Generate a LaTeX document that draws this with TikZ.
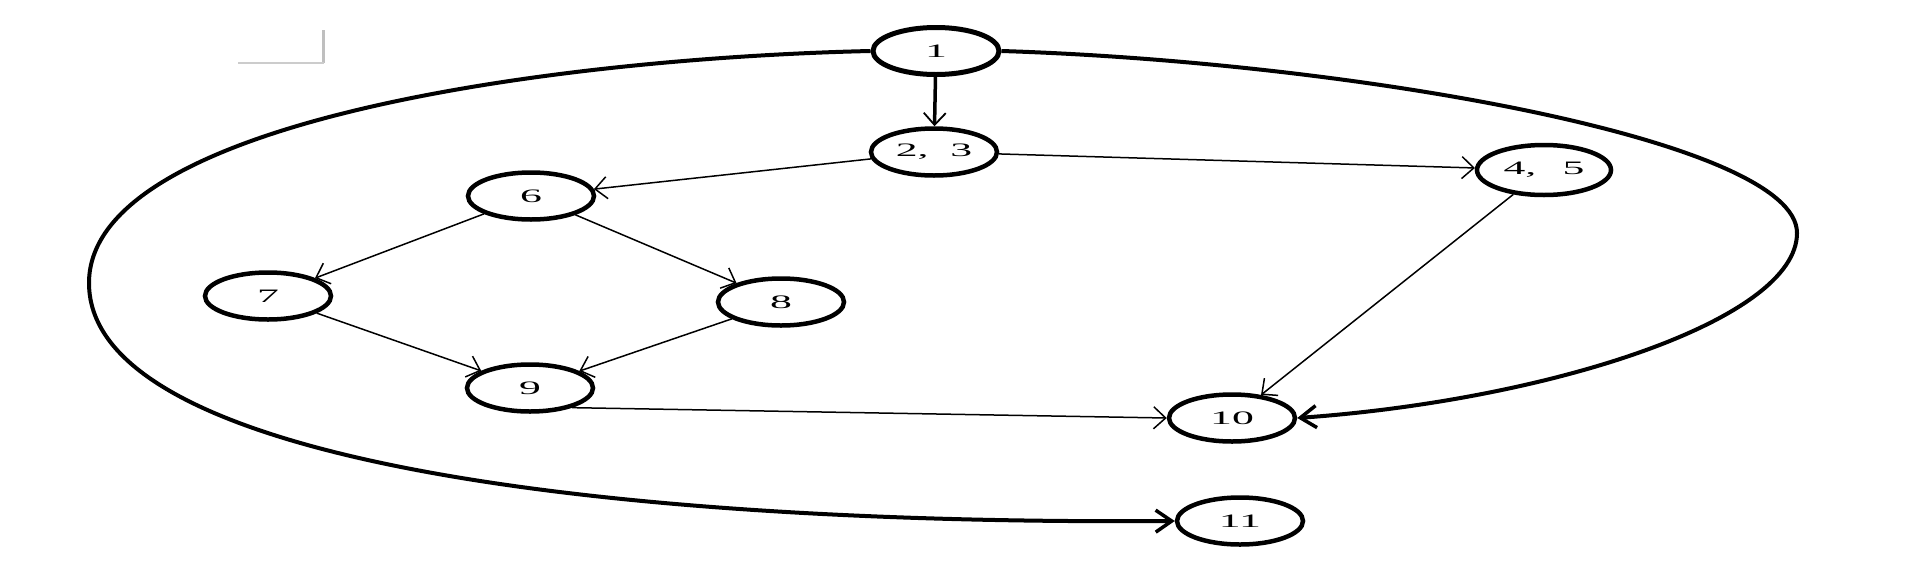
\documentclass[tikz,border=0pt]{standalone}
\usepackage{graphicx}
\usepackage{fontspec}
\setmainfont{Liberation Serif}
\usetikzlibrary{shapes.geometric,arrows.meta}
\newcommand{\wlbl}[1]{\scalebox{2.3}[1]{#1}}
\begin{document}
\begin{tikzpicture}[x=1pt,y=-1pt,
  vertex/.style={ellipse,draw=black,line width=4.5pt,minimum width=126pt,minimum height=47pt,inner sep=0pt,font=\fontsize{19}{21}\selectfont},
  thinedge/.style={line width=1.5pt,-{Straight Barb[length=12pt,width=22pt,line width=1.5pt]}},
  midedge/.style={line width=3.5pt,-{Straight Barb[length=12pt,width=22pt,line width=1.8pt]}},
  bigedge/.style={line width=4pt,-{Straight Barb[length=16pt,width=22pt,line width=3.5pt]}}]
\useasboundingbox (0,0) rectangle (1920,560);
% corner mark
\draw[black!25,line width=3pt] (323,30) -- (323,63);
\draw[black!20,line width=1.2pt] (238,63) -- (324,63);
% nodes
\node[vertex,line width=5pt] (n1) at (936,51) {\wlbl{1}};
\node[vertex] (n23) at (934,152) {\wlbl{2,\hspace{0.5em}3}};
\node[vertex,minimum width=134pt,minimum height=50pt] (n45) at (1544,170) {\wlbl{4,\hspace{0.6em}5}};
\node[vertex] (n6) at (531,196) {\wlbl{6}};
\node[vertex] (n7) at (268,296) {\wlbl{7}};
\node[vertex] (n8) at (781,302) {\wlbl{8}};
\node[vertex] (n9) at (530,388) {\wlbl{9}};
\node[vertex] (n10) at (1232,418) {\wlbl{10}};
\node[vertex] (n11) at (1240,521) {\wlbl{11}};
% edges
\draw[midedge] (n1) -- (n23);
\draw[thinedge] (n23) -- (n6);
\draw[thinedge] (n23) -- (n45);
\draw[thinedge] (n6) -- (n7);
\draw[thinedge] (n6) -- (n8);
\draw[thinedge] (n7) -- (n9);
\draw[thinedge] (n8) -- (n9);
\draw[thinedge] (n9.-25) -- (n10.west);
\draw[thinedge] (n45) -- (n10);
\coordinate (lft) at (89,283);
\coordinate (rgt) at (1797,233);
\draw[bigedge] (n1.west) .. controls (560,58) and (89,120) .. (lft)
  .. controls (89,460) and (600,525) .. (n11.west);
\draw[bigedge] (n1.east) .. controls (1350,62) and (1797,140) .. (rgt)
  .. controls (1797,320) and (1550,400) .. (n10.east);
\end{tikzpicture}
\end{document}
